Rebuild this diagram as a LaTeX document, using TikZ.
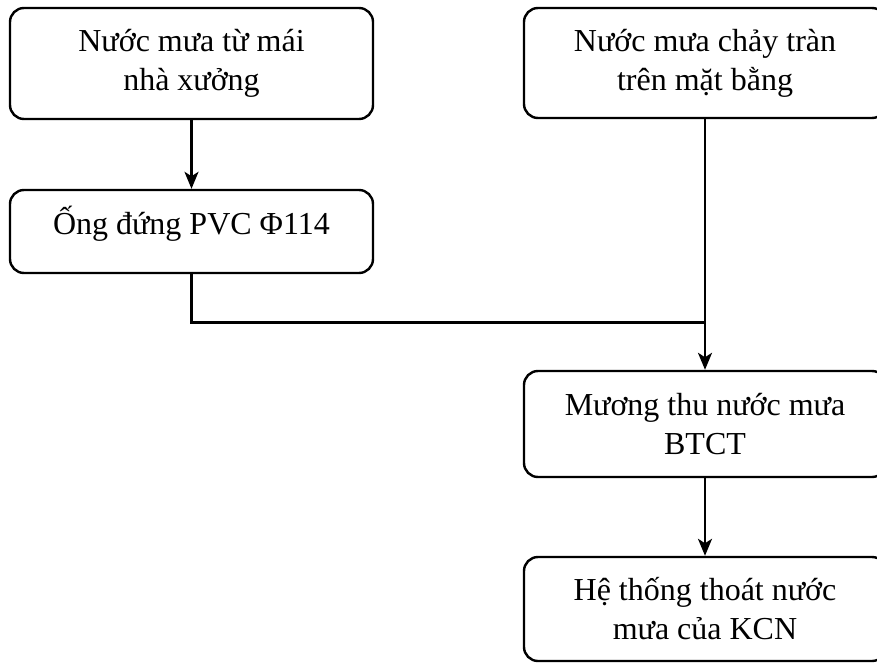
\documentclass[tikz,border=0pt]{standalone}
\usepackage{fontspec}
\setmainfont{Liberation Serif}
\usetikzlibrary{arrows.meta}

\tikzset{
  flowbox/.style={draw=black, line width=2.4pt, rounded corners=14pt,
    align=center, inner sep=0pt,
    font=\fontsize{32}{39}\selectfont},
  flowline/.style={draw=black, line width=2.5pt},
  flowarrow/.style={flowline, -{Stealth[length=17pt,width=14pt,inset=4.5pt]}}
}

\begin{document}
\begin{tikzpicture}[x=1pt,y=-1pt]
  \clip (0,0) rectangle (877,663);
  \fill[white] (0,0) rectangle (877,663);

  % source boxes
  \node[flowbox, minimum width=363pt, minimum height=111pt] (roof)
    at (191.5,63.5) {Nước mưa từ mái\\nhà xưởng};
  \node[flowbox, minimum width=362pt, minimum height=110pt] (surface)
    at (705,63) {Nước mưa chảy tràn\\trên mặt bằng};

  % downpipe
  \node[flowbox, minimum width=363pt, minimum height=83pt, text depth=22pt] (pipe)
    at (191.5,231.5) {Ống đứng PVC Φ114};

  % collection ditch and outlet
  \node[flowbox, minimum width=362pt, minimum height=106pt] (ditch)
    at (705,424) {Mương thu nước mưa\\BTCT};
  \node[flowbox, minimum width=362pt, minimum height=104pt] (outlet)
    at (705,609) {Hệ thống thoát nước\\mưa của KCN};

  % junction where the downpipe line meets the surface runoff line
  \coordinate (join) at (705,322.5);

  % connectors
  \draw[flowarrow] (roof.south) -- (pipe.north);
  \draw[flowline] (pipe.south) |- (join);
  \draw[flowarrow] (surface.south) -- (ditch.north);
  \draw[flowarrow] (ditch.south) -- (outlet.north);
\end{tikzpicture}
\end{document}
